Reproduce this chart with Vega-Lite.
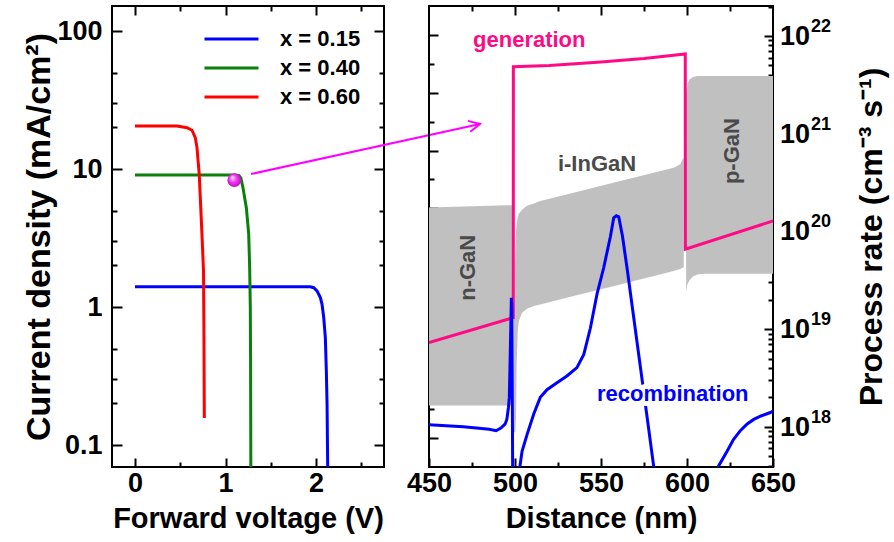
{
  "$schema": "https://vega.github.io/schema/vega-lite/v6.json",
  "background": "white",
  "padding": {"left": 21, "top": 4, "right": 5, "bottom": 2},
  "spacing": 45,
  "bounds": "flush",
  "datasets": {
    "jv": [
      {"s": "x = 0.15", "v": 0, "j": 1.40}, {"s": "x = 0.15", "v": 1.0, "j": 1.40}, {"s": "x = 0.15", "v": 1.9, "j": 1.40},
      {"s": "x = 0.15", "v": 1.937, "j": 1.40}, {"s": "x = 0.15", "v": 1.974, "j": 1.38}, {"s": "x = 0.15", "v": 2.011, "j": 1.31},
      {"s": "x = 0.15", "v": 2.048, "j": 1.17}, {"s": "x = 0.15", "v": 2.066, "j": 1.05}, {"s": "x = 0.15", "v": 2.085, "j": 0.84},
      {"s": "x = 0.15", "v": 2.103, "j": 0.60}, {"s": "x = 0.15", "v": 2.114, "j": 0.344}, {"s": "x = 0.15", "v": 2.122, "j": 0.197},
      {"s": "x = 0.15", "v": 2.13, "j": 0.06},
      {"s": "x = 0.40", "v": 0, "j": 9.05}, {"s": "x = 0.40", "v": 1.0, "j": 9.05}, {"s": "x = 0.40", "v": 1.1, "j": 9.05},
      {"s": "x = 0.40", "v": 1.15, "j": 8.95}, {"s": "x = 0.40", "v": 1.17, "j": 8.6}, {"s": "x = 0.40", "v": 1.193, "j": 7.3},
      {"s": "x = 0.40", "v": 1.23, "j": 5.25}, {"s": "x = 0.40", "v": 1.256, "j": 3.4}, {"s": "x = 0.40", "v": 1.267, "j": 1.93},
      {"s": "x = 0.40", "v": 1.274, "j": 1.0}, {"s": "x = 0.40", "v": 1.277, "j": 0.4}, {"s": "x = 0.40", "v": 1.28, "j": 0.06},
      {"s": "x = 0.60", "v": 0, "j": 20.5}, {"s": "x = 0.60", "v": 0.464, "j": 20.5}, {"s": "x = 0.60", "v": 0.575, "j": 19.9},
      {"s": "x = 0.60", "v": 0.63, "j": 19.1}, {"s": "x = 0.60", "v": 0.666, "j": 16.9}, {"s": "x = 0.60", "v": 0.685, "j": 14.3},
      {"s": "x = 0.60", "v": 0.71, "j": 9.1}, {"s": "x = 0.60", "v": 0.74, "j": 3.36}, {"s": "x = 0.60", "v": 0.757, "j": 1.82},
      {"s": "x = 0.60", "v": 0.762, "j": 0.6}, {"s": "x = 0.60", "v": 0.766, "j": 0.157}
    ],
    "marker": [{"v": 1.097, "j": 8.3}],
    "decades": [{"rate": 1e18, "p": "18"}, {"rate": 1e19, "p": "19"}, {"rate": 1e20, "p": "20"}, {"rate": 1e21, "p": "21"}, {"rate": 1e22, "p": "22"}],
    "gen": [
      {"d": 450, "rate": 7.26e18}, {"d": 499.0, "rate": 1.31e19}, {"d": 499.05, "rate": 4.85e21},
      {"d": 520, "rate": 4.99e21}, {"d": 550, "rate": 5.42e21}, {"d": 575, "rate": 5.89e21},
      {"d": 599.0, "rate": 6.55e21}, {"d": 599.05, "rate": 6.56e19}, {"d": 650, "rate": 1.28e20}
    ],
    "rec": [
      {"d": 450, "rate": 1.047e18}, {"d": 470, "rate": 1.0e18}, {"d": 485, "rate": 9.44e17}, {"d": 489, "rate": 9.12e17},
      {"d": 492, "rate": 9.77e17}, {"d": 494.3, "rate": 1.07e18}, {"d": 495.3, "rate": 1.2e18}, {"d": 496.2, "rate": 1.585e18},
      {"d": 496.7, "rate": 2.0e18}, {"d": 497.3, "rate": 6.31e18}, {"d": 497.9, "rate": 2.09e19}, {"d": 498.2, "rate": 1.585e19},
      {"d": 498.4, "rate": 3.16e18}, {"d": 498.7, "rate": 2.0e17}, {"d": 502.1, "rate": 3.16e17}, {"d": 504.1, "rate": 5.62e17},
      {"d": 507.0, "rate": 8.32e17}, {"d": 510.9, "rate": 1.35e18}, {"d": 514.7, "rate": 2.0e18}, {"d": 518.6, "rate": 2.4e18},
      {"d": 524.4, "rate": 2.82e18}, {"d": 530.2, "rate": 3.31e18}, {"d": 536.0, "rate": 4.03e18}, {"d": 540.0, "rate": 5.5e18},
      {"d": 543.8, "rate": 1.02e19}, {"d": 547.7, "rate": 2.29e19}, {"d": 551.6, "rate": 4.27e19}, {"d": 555.5, "rate": 8.91e19},
      {"d": 557.4, "rate": 1.38e20}, {"d": 558.9, "rate": 1.445e20}, {"d": 560.3, "rate": 1.41e20}, {"d": 562.5, "rate": 8.91e19},
      {"d": 565.1, "rate": 4.27e19}, {"d": 573.0, "rate": 3.98e18}, {"d": 580.6, "rate": 3.98e17}, {"d": 582.0, "rate": 2.5e17},
      {"d": 616.5, "rate": 2.5e17}, {"d": 618.4, "rate": 3.98e17}, {"d": 623.3, "rate": 5.62e17}, {"d": 627.0, "rate": 7.4e17},
      {"d": 631.0, "rate": 9.12e17}, {"d": 635.0, "rate": 1.07e18}, {"d": 638.8, "rate": 1.19e18}, {"d": 643.0, "rate": 1.29e18},
      {"d": 648.5, "rate": 1.4e18}, {"d": 650, "rate": 1.445e18}
    ],
    "band": [
      {"r": "n", "d": 450, "top": 4.01, "bot": 0.565}, {"r": "n", "d": 475, "top": 4.03, "bot": 0.565},
      {"r": "n", "d": 495, "top": 4.05, "bot": 0.565}, {"r": "n", "d": 498.6, "top": 4.05, "bot": 0.565},
      {"r": "i", "d": 499.3, "top": 1.9, "bot": 0.1}, {"r": "i", "d": 500.2, "top": 3.3, "bot": 0.1},
      {"r": "i", "d": 500.6, "top": 3.6, "bot": 0.4}, {"r": "i", "d": 501.0, "top": 3.72, "bot": 1.3},
      {"r": "i", "d": 501.6, "top": 3.85, "bot": 1.85}, {"r": "i", "d": 502.2, "top": 3.9, "bot": 2.035},
      {"r": "i", "d": 504.1, "top": 3.97, "bot": 2.18}, {"r": "i", "d": 507, "top": 4.04, "bot": 2.25},
      {"r": "i", "d": 510.9, "top": 4.08, "bot": 2.296}, {"r": "i", "d": 514.7, "top": 4.12, "bot": 2.32},
      {"r": "i", "d": 530, "top": 4.234, "bot": 2.44}, {"r": "i", "d": 560, "top": 4.459, "bot": 2.66},
      {"r": "i", "d": 592.3, "top": 4.70, "bot": 2.904}, {"r": "i", "d": 596.1, "top": 4.76, "bot": 2.94},
      {"r": "i", "d": 597.4, "top": 4.85, "bot": 2.96}, {"r": "i", "d": 598.1, "top": 4.87, "bot": 2.97},
      {"r": "p", "d": 599.5, "top": 5.95, "bot": 2.55}, {"r": "p", "d": 600.3, "top": 6.16, "bot": 2.68},
      {"r": "p", "d": 601.5, "top": 6.24, "bot": 2.75}, {"r": "p", "d": 603.5, "top": 6.28, "bot": 2.81},
      {"r": "p", "d": 606, "top": 6.296, "bot": 2.845}, {"r": "p", "d": 610, "top": 6.296, "bot": 2.857},
      {"r": "p", "d": 650, "top": 6.296, "bot": 2.857}
    ]
  },
  "hconcat": [
    {
      "width": 272,
      "height": 461,
      "layer": [
        {
          "data": {"name": "jv"},
          "mark": {"type": "line", "strokeWidth": 3, "clip": true},
          "encoding": {
            "x": {
              "field": "v", "type": "quantitative",
              "scale": {"domain": [-0.254, 2.751], "nice": false, "zero": false},
              "axis": {"orient": "bottom", "title": "Forward voltage (V)", "values": [0, 1, 2], "format": "d", "tickSize": -9, "labelPadding": 12, "titlePadding": 8}
            },
            "y": {
              "field": "j", "type": "quantitative",
              "scale": {"type": "log", "domain": [0.06928, 151.8], "nice": false},
              "axis": {"orient": "left", "title": "Current density (mA/cm²)", "titleFontSize": 34, "values": [0.1, 1, 10, 100],
                "labelExpr": "datum.value == 0.1 ? '0.1' : datum.value == 1 ? '1' : datum.value == 10 ? '10' : '100'",
                "tickSize": -10, "labelPadding": 20, "titlePadding": 0}
            },
            "color": {
              "field": "s", "type": "nominal",
              "scale": {"domain": ["x = 0.15", "x = 0.40", "x = 0.60"], "range": ["#0000ff", "#0a800a", "#ff0000"]},
              "legend": {
                "title": null, "orient": "top-right", "offset": 23, "padding": 0,
                "symbolType": "stroke", "symbolSize": 2916, "symbolStrokeWidth": 3,
                "clipHeight": 20, "rowPadding": 7,
                "labelFont": "Liberation Sans", "labelFontWeight": "bold", "labelFontSize": 22, "labelColor": "#000", "labelOffset": 20
              }
            }
          }
        },
        {
          "data": {"values": [{"v": 1.282, "j": 9.2, "v2": 3.812, "j2": 21.2}]},
          "mark": {"type": "rule", "clip": false, "color": "#ff00ff", "strokeWidth": 2},
          "encoding": {
            "x": {"field": "v", "type": "quantitative", "scale": {"domain": [-0.254, 2.751], "nice": false, "zero": false}, "axis": null},
            "y": {"field": "j", "type": "quantitative", "scale": {"type": "log", "domain": [0.06928, 151.8], "nice": false}, "axis": null},
            "x2": {"field": "v2"},
            "y2": {"field": "j2"}
          }
        },
        {
          "data": {"values": [{"v": 3.812, "j": 21.2}]},
          "mark": {"type": "point", "clip": false, "shape": "M-1,-0.5L0,0L-1,0.5", "filled": false, "size": 500, "angle": -12.3, "color": "#ff00ff", "strokeWidth": 2, "opacity": 1},
          "encoding": {
            "x": {"field": "v", "type": "quantitative", "scale": {"domain": [-0.254, 2.751], "nice": false, "zero": false}, "axis": null},
            "y": {"field": "j", "type": "quantitative", "scale": {"type": "log", "domain": [0.06928, 151.8], "nice": false}, "axis": null}
          }
        },
        {
          "data": {"name": "marker"},
          "mark": {
            "type": "point", "filled": true, "size": 190, "shape": "circle", "opacity": 1,
            "color": {"gradient": "radial", "x1": 0.35, "y1": 0.3, "r1": 0.02, "x2": 0.5, "y2": 0.5, "r2": 0.55,
              "stops": [{"offset": 0, "color": "#ffe0ff"}, {"offset": 0.45, "color": "#f040f0"}, {"offset": 1, "color": "#c000c0"}]}
          },
          "encoding": {
            "x": {"field": "v", "type": "quantitative", "scale": {"domain": [-0.254, 2.751], "nice": false, "zero": false},
              "axis": {"orient": "top", "title": null, "labels": false, "values": [0, 1, 2], "tickSize": -9}},
            "y": {"field": "j", "type": "quantitative", "scale": {"type": "log", "domain": [0.06928, 151.8], "nice": false},
              "axis": {"orient": "right", "title": null, "labels": false, "values": [0.1, 1, 10, 100], "tickSize": -10}}
          }
        },
        {
          "data": {"name": "marker"},
          "mark": {"type": "point", "opacity": 0},
          "encoding": {
            "x": {"field": "v", "type": "quantitative", "scale": {"domain": [-0.254, 2.751], "nice": false, "zero": false},
              "axis": {"orient": "bottom", "title": null, "labels": false, "values": [0.5, 1.5, 2.5], "tickSize": -5}},
            "y": {"field": "j", "type": "quantitative", "scale": {"type": "log", "domain": [0.06928, 151.8], "nice": false},
              "axis": {"orient": "left", "title": null, "labels": false, "values": [0.2, 0.3, 0.5, 2, 3, 5, 20, 30, 50], "tickSize": -5}}
          }
        },
        {
          "data": {"name": "marker"},
          "mark": {"type": "point", "opacity": 0},
          "encoding": {
            "x": {"field": "v", "type": "quantitative", "scale": {"domain": [-0.254, 2.751], "nice": false, "zero": false},
              "axis": {"orient": "top", "title": null, "labels": false, "values": [0.5, 1.5, 2.5], "tickSize": -5}},
            "y": {"field": "j", "type": "quantitative", "scale": {"type": "log", "domain": [0.06928, 151.8], "nice": false},
              "axis": {"orient": "right", "title": null, "labels": false, "values": [0.2, 0.3, 0.5, 2, 3, 5, 20, 30, 50], "tickSize": -5}}
          }
        }
      ],
      "resolve": {"axis": {"x": "independent", "y": "independent"}}
    },
    {
      "width": 344,
      "height": 461,
      "layer": [
        {
          "data": {"name": "band"},
          "mark": {"type": "area", "color": "#c0c0c0", "opacity": 1, "clip": true},
          "encoding": {
            "x": {
              "field": "d", "type": "quantitative",
              "scale": {"domain": [450, 650], "nice": false, "zero": false},
              "axis": {"orient": "bottom", "title": "Distance (nm)", "values": [450, 500, 550, 600, 650], "format": "d", "tickSize": -9, "labelPadding": 12, "titlePadding": 8}
            },
            "y": {
              "field": "top", "type": "quantitative",
              "scale": {"domain": [-0.504, 7.513], "nice": false, "zero": false},
              "axis": {"orient": "left", "title": null, "labels": false, "values": [0, 1, 2, 3, 4, 5, 6, 7], "tickSize": -9}
            },
            "y2": {"field": "bot"},
            "detail": {"field": "r", "type": "nominal"}
          }
        },
        {
          "data": {"name": "band"},
          "mark": {"type": "point", "opacity": 0},
          "encoding": {
            "x": {"field": "d", "type": "quantitative", "scale": {"domain": [450, 650], "nice": false, "zero": false},
              "axis": {"orient": "bottom", "title": null, "labels": false, "values": [475, 525, 575, 625], "tickSize": -5}},
            "y": {"field": "top", "type": "quantitative", "scale": {"domain": [-0.504, 7.513], "nice": false, "zero": false},
              "axis": {"orient": "left", "title": null, "labels": false, "values": [0.5, 1.5, 2.5, 3.5, 4.5, 5.5, 6.5], "tickSize": -5}}
          }
        },
        {
          "data": {"values": [{"d": 472.7, "e": 2.96, "t": "n-GaN"}, {"d": 626.2, "e": 4.99, "t": "p-GaN"}]},
          "mark": {"type": "text", "angle": 270, "font": "Liberation Sans", "fontWeight": "bold", "fontSize": 22, "color": "#4a4a4a", "align": "center", "baseline": "middle"},
          "encoding": {
            "x": {"field": "d", "type": "quantitative", "scale": {"domain": [450, 650], "nice": false, "zero": false}, "axis": null},
            "y": {"field": "e", "type": "quantitative", "scale": {"domain": [-0.504, 7.513], "nice": false, "zero": false}, "axis": null},
            "text": {"field": "t"}
          }
        },
        {
          "data": {"values": [{"d": 547.7, "e": 4.77, "t": "i-InGaN"}]},
          "mark": {"type": "text", "font": "Liberation Sans", "fontWeight": "bold", "fontSize": 22, "color": "#4a4a4a", "align": "center", "baseline": "middle"},
          "encoding": {
            "x": {"field": "d", "type": "quantitative", "scale": {"domain": [450, 650], "nice": false, "zero": false}, "axis": null},
            "y": {"field": "e", "type": "quantitative", "scale": {"domain": [-0.504, 7.513], "nice": false, "zero": false}, "axis": null},
            "text": {"field": "t"}
          }
        },
        {
          "data": {"name": "gen"},
          "mark": {"type": "line", "color": "#ff0a84", "strokeWidth": 3, "clip": true},
          "encoding": {
            "x": {"field": "d", "type": "quantitative", "scale": {"domain": [450, 650], "nice": false, "zero": false},
              "axis": {"orient": "top", "title": null, "labels": false, "values": [500, 550, 600], "tickSize": -9}},
            "y": {
              "field": "rate", "type": "quantitative",
              "scale": {"type": "log", "domain": [3.877e17, 2.028e22], "nice": false},
              "axis": {
                "orient": "right", "title": "Process rate (cm⁻³ s⁻¹)", "titleAngle": 270, "titleBaseline": "top", "titleFontSize": 32,
                "values": [1e18, 1e19, 1e20, 1e21, 1e22], "labels": false,
                "tickSize": -9, "titlePadding": 82
              }
            }
          }
        },
        {
          "data": {"name": "gen"},
          "mark": {"type": "point", "opacity": 0},
          "encoding": {
            "x": {"field": "d", "type": "quantitative", "scale": {"domain": [450, 650], "nice": false, "zero": false},
              "axis": {"orient": "top", "title": null, "labels": false, "values": [475, 525, 575, 625], "tickSize": -5}},
            "y": {"field": "rate", "type": "quantitative", "scale": {"type": "log", "domain": [3.877e17, 2.028e22], "nice": false},
              "axis": {"orient": "right", "title": null, "labels": false, "tickSize": -5,
                "values": [4e17, 5e17, 6e17, 7e17, 8e17, 9e17, 2e18, 3e18, 4e18, 5e18, 6e18, 7e18, 8e18, 9e18, 2e19, 3e19, 4e19, 5e19, 6e19, 7e19, 8e19, 9e19, 2e20, 3e20, 4e20, 5e20, 6e20, 7e20, 8e20, 9e20, 2e21, 3e21, 4e21, 5e21, 6e21, 7e21, 8e21, 9e21, 2e22]}}
          }
        },
        {
          "data": {"name": "decades"},
          "mark": {"type": "text", "text": "10", "font": "Liberation Sans", "fontWeight": "bold", "fontSize": 27, "color": "#000000", "align": "left", "baseline": "middle", "dx": 7, "dy": 1, "clip": false},
          "encoding": {
            "x": {"datum": 650, "type": "quantitative", "scale": {"domain": [450, 650], "nice": false, "zero": false}, "axis": null},
            "y": {"field": "rate", "type": "quantitative", "scale": {"type": "log", "domain": [3.877e17, 2.028e22], "nice": false}, "axis": null}
          }
        },
        {
          "data": {"name": "decades"},
          "mark": {"type": "text", "font": "Liberation Sans", "fontWeight": "bold", "fontSize": 18, "color": "#000000", "align": "left", "baseline": "middle", "dx": 38, "dy": -9, "clip": false},
          "encoding": {
            "x": {"datum": 650, "type": "quantitative", "scale": {"domain": [450, 650], "nice": false, "zero": false}, "axis": null},
            "y": {"field": "rate", "type": "quantitative", "scale": {"type": "log", "domain": [3.877e17, 2.028e22], "nice": false}, "axis": null},
            "text": {"field": "p"}
          }
        },
        {
          "data": {"name": "rec"},
          "mark": {"type": "line", "color": "#0000ff", "strokeWidth": 3, "clip": true},
          "encoding": {
            "x": {"field": "d", "type": "quantitative", "scale": {"domain": [450, 650], "nice": false, "zero": false}, "axis": null},
            "y": {"field": "rate", "type": "quantitative", "scale": {"type": "log", "domain": [3.877e17, 2.028e22], "nice": false}, "axis": null}
          }
        },
        {
          "data": {"values": [{"d": 508.3, "rate": 9.1e21, "t": "generation"}]},
          "mark": {"type": "text", "font": "Liberation Sans", "fontWeight": "bold", "fontSize": 22, "color": "#ff0a84", "align": "center", "baseline": "middle"},
          "encoding": {
            "x": {"field": "d", "type": "quantitative", "scale": {"domain": [450, 650], "nice": false, "zero": false}, "axis": null},
            "y": {"field": "rate", "type": "quantitative", "scale": {"type": "log", "domain": [3.877e17, 2.028e22], "nice": false}, "axis": null},
            "text": {"field": "t"}
          }
        },
        {
          "data": {"values": [{"d": 591.7, "rate": 2.15e18, "t": "recombination"}]},
          "mark": {"type": "text", "font": "Liberation Sans", "fontWeight": "bold", "fontSize": 22, "color": "#ffffff", "stroke": "#ffffff", "strokeWidth": 10, "strokeJoin": "round", "align": "center", "baseline": "middle"},
          "encoding": {
            "x": {"field": "d", "type": "quantitative", "scale": {"domain": [450, 650], "nice": false, "zero": false}, "axis": null},
            "y": {"field": "rate", "type": "quantitative", "scale": {"type": "log", "domain": [3.877e17, 2.028e22], "nice": false}, "axis": null},
            "text": {"field": "t"}
          }
        },
        {
          "data": {"values": [{"d": 591.7, "rate": 2.15e18, "t": "recombination"}]},
          "mark": {"type": "text", "font": "Liberation Sans", "fontWeight": "bold", "fontSize": 22, "color": "#0000ff", "align": "center", "baseline": "middle"},
          "encoding": {
            "x": {"field": "d", "type": "quantitative", "scale": {"domain": [450, 650], "nice": false, "zero": false}, "axis": null},
            "y": {"field": "rate", "type": "quantitative", "scale": {"type": "log", "domain": [3.877e17, 2.028e22], "nice": false}, "axis": null},
            "text": {"field": "t"}
          }
        }
      ],
      "resolve": {"scale": {"y": "independent"}, "axis": {"x": "independent", "y": "independent"}}
    }
  ],
  "resolve": {"scale": {"color": "independent"}, "legend": {"color": "independent"}},
  "config": {
    "font": "Liberation Sans",
    "view": {"stroke": "#000000", "strokeWidth": 2},
    "axis": {
      "labelFont": "Liberation Sans", "labelFontWeight": "bold", "labelFontSize": 27, "labelColor": "#000000",
      "titleFont": "Liberation Sans", "titleFontWeight": "bold", "titleFontSize": 29, "titleColor": "#000000",
      "tickColor": "#000000", "tickWidth": 2, "domain": false, "grid": false,
      "labelFlush": false, "labelOverlap": false, "labelBound": false
    }
  }
}
